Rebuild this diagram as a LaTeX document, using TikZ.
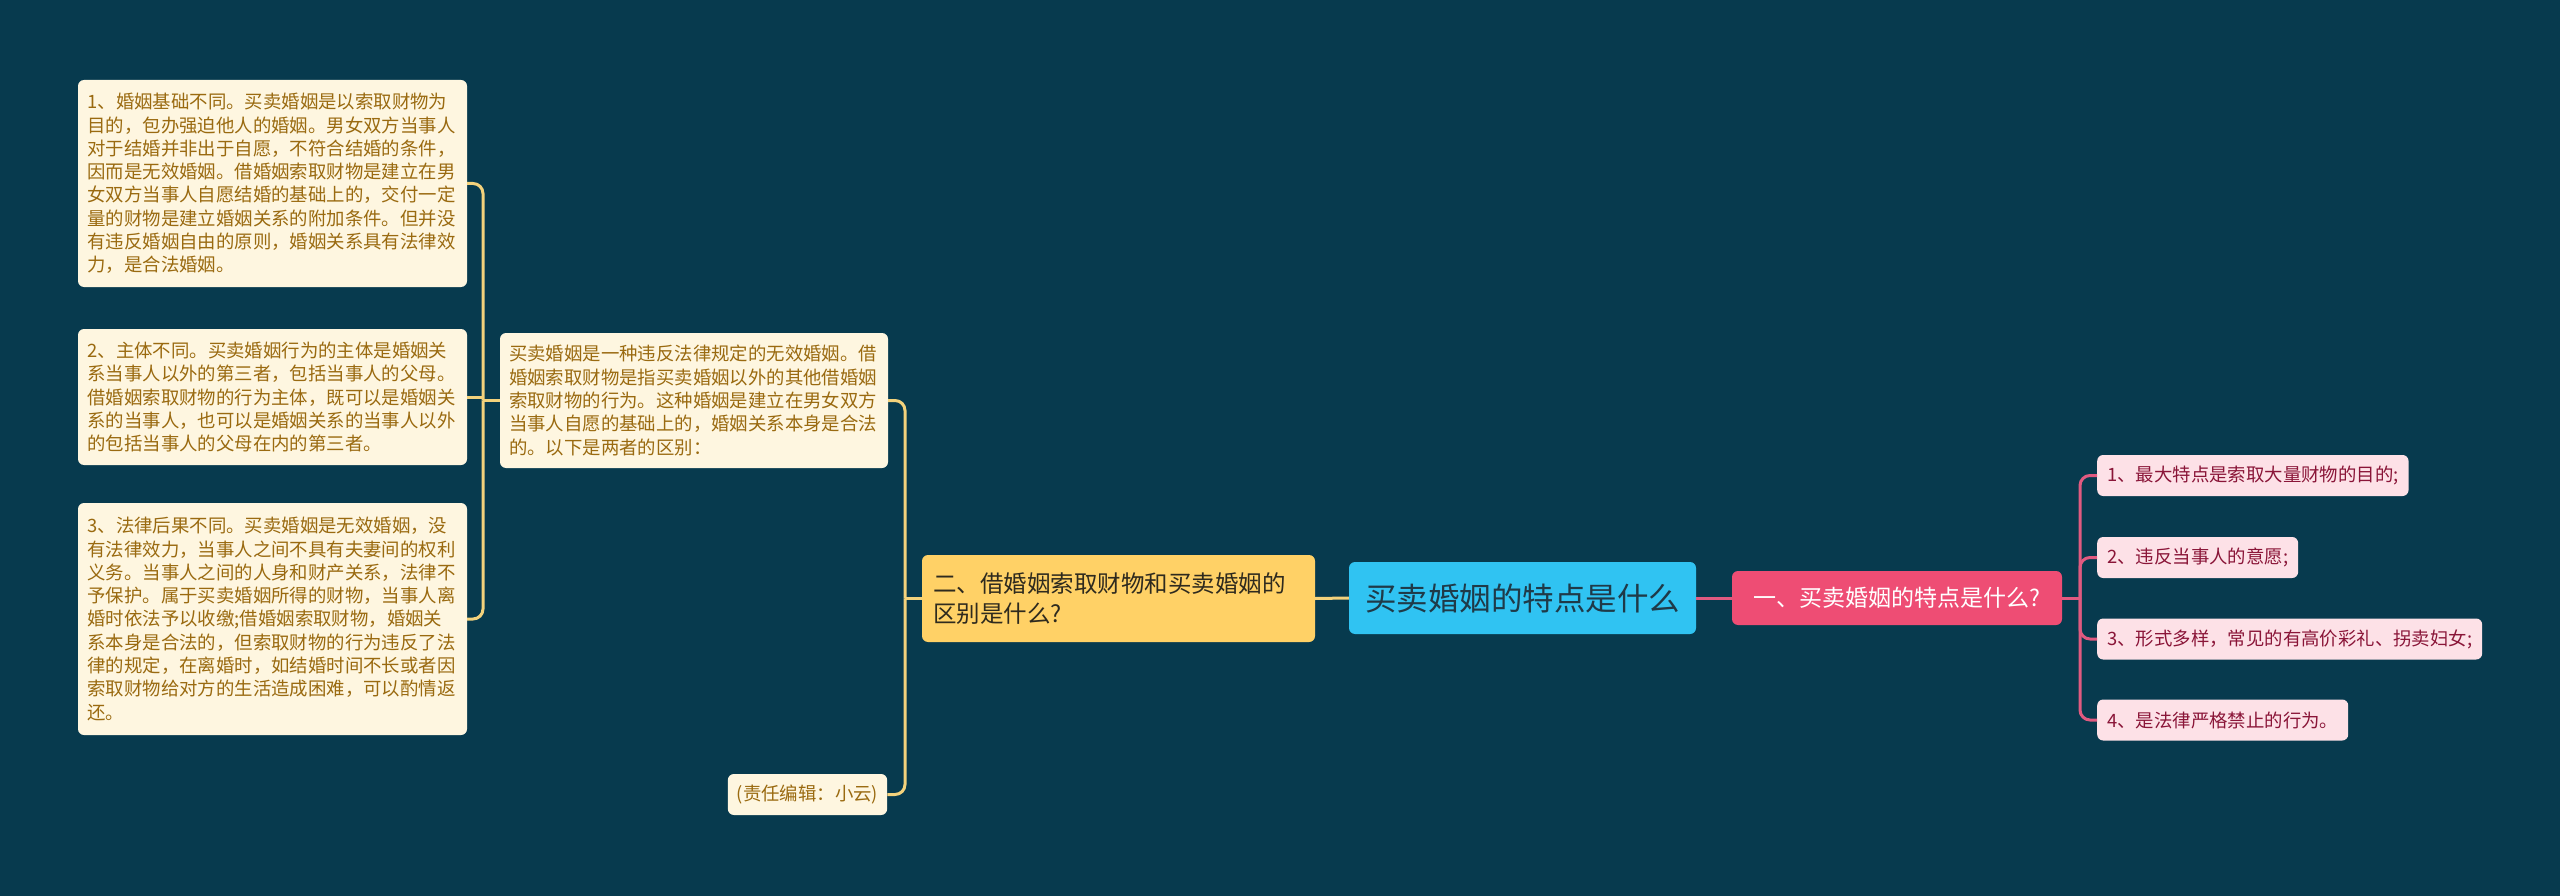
\documentclass[tikz,border=0pt]{standalone}
\usepackage{fontspec}
\setmainfont{Noto Sans CJK SC}
\definecolor{bg}{HTML}{073A4E}
\definecolor{beige}{HTML}{FEF6E0}
\definecolor{beigetext}{HTML}{9A6A10}
\definecolor{yel}{HTML}{FFD166}
\definecolor{yeltext}{HTML}{2E2A1E}
\definecolor{cyanbox}{HTML}{30C3F2}
\definecolor{cyantext}{HTML}{1F3A48}
\definecolor{pinkred}{HTML}{EE4D74}
\definecolor{lpink}{HTML}{FDE1E7}
\definecolor{lpinktext}{HTML}{8A1538}
\definecolor{ylinkc}{HTML}{F3D27C}
\definecolor{plinkc}{HTML}{E05A80}
\begin{document}
\begin{tikzpicture}[x=1pt,y=-1pt,
  base/.style={rounded corners=6pt, inner ysep=0pt},
  small/.style={font=\fontsize{18.4}{23.3}\selectfont},
  leaf/.style={base, small, fill=beige, text=beigetext, text width=370pt, align=left, inner xsep=9.5pt},
  tag/.style={base, small, fill=beige, text=beigetext, inner xsep=9pt, minimum height=41pt},
  rleaf/.style={base, small, fill=lpink, text=lpinktext, inner xsep=10pt, minimum height=41pt, anchor=west},
  ylink/.style={draw=ylinkc, line width=3pt},
  plink/.style={draw=plinkc, line width=3pt},
]
\fill[bg] (0,0) rectangle (2560,896);
\useasboundingbox (0,0) rectangle (2560,896);

% left leaves
\node[leaf, minimum height=207pt] (b1) at (272.5,183.5) {1、婚姻基础不同。买卖婚姻是以索取财物为\\目的，包办强迫他人的婚姻。男女双方当事人\\对于结婚并非出于自愿，不符合结婚的条件，\\因而是无效婚姻。借婚姻索取财物是建立在男\\女双方当事人自愿结婚的基础上的，交付一定\\量的财物是建立婚姻关系的附加条件。但并没\\有违反婚姻自由的原则，婚姻关系具有法律效\\力，是合法婚姻。};
\node[leaf, minimum height=136pt] (b2) at (272.5,397) {2、主体不同。买卖婚姻行为的主体是婚姻关\\系当事人以外的第三者，包括当事人的父母。\\借婚姻索取财物的行为主体，既可以是婚姻关\\系的当事人，也可以是婚姻关系的当事人以外\\的包括当事人的父母在内的第三者。};
\node[leaf, minimum height=232pt] (b3) at (272.5,619) {3、法律后果不同。买卖婚姻是无效婚姻，没\\有法律效力，当事人之间不具有夫妻间的权利\\义务。当事人之间的人身和财产关系，法律不\\予保护。属于买卖婚姻所得的财物，当事人离\\婚时依法予以收缴;借婚姻索取财物，婚姻关\\系本身是合法的，但索取财物的行为违反了法\\律的规定，在离婚时，如结婚时间不长或者因\\索取财物给对方的生活造成困难，可以酌情返\\还。};

% middle
\node[leaf, inner xsep=9pt, minimum height=135pt] (mid) at (694,400.5) {买卖婚姻是一种违反法律规定的无效婚姻。借\\婚姻索取财物是指买卖婚姻以外的其他借婚姻\\索取财物的行为。这种婚姻是建立在男女双方\\当事人自愿的基础上的，婚姻关系本身是合法\\的。以下是两者的区别：};
\node[tag, minimum width=159pt] (ed) at (807.5,794.5) {(责任编辑：小云)};

% main branches
\node[base, fill=yel, text=yeltext, font=\fontsize{23.5}{30}\selectfont, text width=371pt, align=left, inner xsep=11pt, minimum height=87pt] (two) at (1118.5,598.5) {二、借婚姻索取财物和买卖婚姻的\\区别是什么?};
\node[base, fill=cyanbox, text=cyantext, font=\fontsize{31.5}{36}\selectfont, minimum width=347pt, minimum height=72pt] (root) at (1522.5,598) {买卖婚姻的特点是什么};
\node[base, fill=pinkred, text=white, font=\fontsize{23}{28}\selectfont, minimum width=330pt, minimum height=54pt] (one) at (1897,598) {一、买卖婚姻的特点是什么?};

% right leaves
\node[rleaf] (r1) at (2097,475.5) {1、最大特点是索取大量财物的目的;};
\node[rleaf] (r2) at (2097,557.5) {2、违反当事人的意愿;};
\node[rleaf] (r3) at (2097,639) {3、形式多样，常见的有高价彩礼、拐卖妇女;};
\node[rleaf] (r4) at (2097,720) {4、是法律严格禁止的行为。};

% connectors
\coordinate (jl) at (483,400.5);
\coordinate (jr) at (905,598.5);
\coordinate (jp) at (2080,598);
\begin{scope}[on background layer/.style={}]
\draw[ylink] (mid.west) -- (jl);
\draw[ylink, rounded corners=10pt] (jl) |- (b1.east);
\draw[ylink, rounded corners=10pt] (jl) |- (b3.east);
\draw[ylink] (jl |- b2.east) -- (b2.east);
\draw[ylink] (two.west) -- (jr);
\draw[ylink, rounded corners=10pt] (jr) |- (mid.east);
\draw[ylink, rounded corners=10pt] (jr) |- (ed.east);
\draw[ylink] (root.west) -- (two.east);
\draw[plink] (root.east) -- (one.west);
\draw[plink] (one.east) -- (jp);
\draw[plink, rounded corners=10pt] (jp) |- (r1.west);
\draw[plink, rounded corners=10pt] (jp) |- (r2.west);
\draw[plink, rounded corners=10pt] (jp) |- (r3.west);
\draw[plink, rounded corners=10pt] (jp) |- (r4.west);
\end{scope}
\end{tikzpicture}
\end{document}
